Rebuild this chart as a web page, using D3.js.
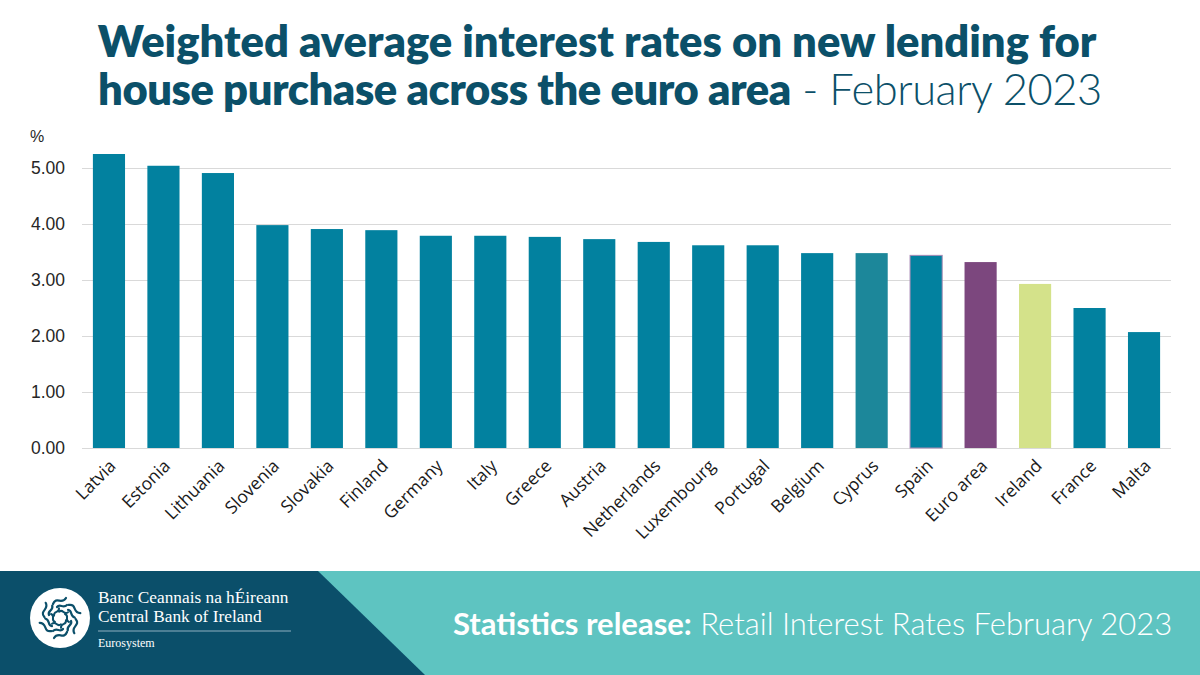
<!DOCTYPE html>
<html>
<head>
<meta charset="utf-8">
<script src="https://cdn.jsdelivr.net/npm/d3@7"></script>
<style>
  body { margin: 0; background: #fff; }
  svg { display: block; }
</style>
</head>
<body>
<svg id="chart" width="1200" height="675"></svg>
<script>
// values
const countries = ["Latvia", "Estonia", "Lithuania", "Slovenia", "Slovakia", "Finland", "Germany",
    "Italy", "Greece", "Austria", "Netherlands", "Luxembourg", "Portugal", "Belgium", "Cyprus",
    "Spain", "Euro area", "Ireland", "France", "Malta"];
const rates = [5.25, 5.04, 4.91, 3.98, 3.91, 3.89, 3.79, 3.79, 3.77, 3.73, 3.68, 3.62, 3.62,
    3.48, 3.48, 3.44, 3.32, 2.93, 2.50, 2.07];
const yTicks = [0, 1, 2, 3, 4, 5];

const titleBold1 = "Weighted average interest rates on new lending for";
const titleBold2 = "house purchase across the euro area";
const titleLight2 = " - February 2023";

const data = countries.map(function (c, i) { return { country: c, rate: rates[i] }; });

const svg = d3.select("#chart"),
    margin = { left: 82, right: 29, top: 168, bottom: 227 };

const x = d3.scaleBand()
    .domain(countries)
    .range([margin.left, 1200 - margin.right])
    .paddingInner(0.41)
    .paddingOuter(0.2);

const y = d3.scaleLinear()
    .domain([0, 5])
    .range([448, 168]);

function barColor(d) {
    if (d.country === "Euro area") return "#7C477E";
    if (d.country === "Ireland") return "#D4E28A";
    if (d.country === "Cyprus") return "#1C879A";
    return "#02819F";
}

// gridlines + y labels
const yAxis = svg.append("g")
    .attr("transform", "translate(" + margin.left + ",0)")
    .call(d3.axisLeft(y)
        .tickValues(yTicks)
        .tickFormat(d3.format(".2f"))
        .tickSize(-(1200 - margin.left - margin.right))
        .tickPadding(17));
yAxis.select(".domain").remove();
yAxis.selectAll(".tick line").attr("stroke", "#d9d9d9").attr("stroke-width", 1.2);
yAxis.selectAll(".tick text")
    .attr("fill", "#262626")
    .style("font-family", "'Liberation Sans', Arial, sans-serif")
    .style("font-size", "17.5px");

svg.append("text")
    .attr("x", 30).attr("y", 142)
    .attr("fill", "#262626")
    .style("font-family", "'Liberation Sans', Arial, sans-serif")
    .style("font-size", "16px")
    .text("%");

// bars
svg.append("g").selectAll("rect")
    .data(data)
    .enter().append("rect")
    .attr("x", function (d) { return x(d.country); })
    .attr("y", function (d) { return y(d.rate); })
    .attr("width", x.bandwidth())
    .attr("height", function (d) { return y(0) - y(d.rate); })
    .attr("fill", barColor)
    .attr("stroke", function (d) { return d.country === "Spain" ? "#A98BB5" : "none"; })
    .attr("stroke-width", 1);

// x labels, rotated
const xAxis = svg.append("g")
    .attr("transform", "translate(0,448)")
    .call(d3.axisBottom(x).tickSize(0).tickPadding(0));
xAxis.select(".domain").remove();
xAxis.selectAll(".tick text")
    .attr("text-anchor", "end")
    .attr("dy", null)
    .attr("transform", "translate(8,19) rotate(-45)")
    .attr("fill", "#1a1a1a")
    .style("font-family", "'Open Sans', 'Noto Sans', sans-serif")
    .style("font-size", "17.5px");

// title
const title = svg.append("text")
    .attr("fill", "#0B5069")
    .attr("text-anchor", "middle")
    .style("font-family", "Lato, sans-serif")
    .style("font-size", "43.5px");
title.append("tspan")
    .attr("x", 597).attr("y", 57)
    .style("font-weight", 800)
    .text(titleBold1);
const t2 = title.append("tspan")
    .attr("x", 600).attr("y", 105)
    .style("letter-spacing", "-0.45px");
t2.append("tspan").style("font-weight", 800).text(titleBold2);
t2.append("tspan").style("font-weight", 300).text(titleLight2);

// footer
svg.append("rect")
    .attr("x", 0).attr("y", 571)
    .attr("width", 1200).attr("height", 104)
    .attr("fill", "#5EC4C1");
svg.append("path")
    .attr("d", "M0,571 L318,571 L425,675 L0,675 Z")
    .attr("fill", "#0B4F6A");

// logo: white globe with swirl marks
const logo = svg.append("g").attr("transform", "translate(60,618)");
logo.append("circle").attr("r", 30).attr("fill", "#fff");
const swirlAngles = [0, 60, 120, 180, 240, 300];
swirlAngles.forEach(function (a) {
    logo.append("path")
        .attr("transform", "rotate(" + a + ") translate(0,-17)")
        .attr("d", "M-7,3 C-4,-5 2,4 6,-3 M-3,6 C0,2 3,8 7,4")
        .attr("fill", "none")
        .attr("stroke", "#0B4F6A")
        .attr("stroke-width", 2.2)
        .attr("stroke-linecap", "round");
});
[30, 90, 150, 210, 270, 330].forEach(function (a) {
    logo.append("path")
        .attr("transform", "rotate(" + a + ") translate(0,-7)")
        .attr("d", "M-4,2 C-2,-3 2,3 4,-2")
        .attr("fill", "none")
        .attr("stroke", "#0B4F6A")
        .attr("stroke-width", 2)
        .attr("stroke-linecap", "round");
});

const serif = "'Liberation Serif', 'DejaVu Serif', serif";
svg.append("text")
    .attr("x", 98).attr("y", 603)
    .attr("fill", "#fff")
    .style("font-family", serif).style("font-size", "17.3px")
    .text("Banc Ceannais na hÉireann");
svg.append("text")
    .attr("x", 98).attr("y", 622)
    .attr("fill", "#fff")
    .style("font-family", serif).style("font-size", "17.3px")
    .text("Central Bank of Ireland");
svg.append("line")
    .attr("x1", 98).attr("x2", 291)
    .attr("y1", 631).attr("y2", 631)
    .attr("stroke", "#8FB0C0").attr("stroke-width", 1);
svg.append("text")
    .attr("x", 98).attr("y", 647)
    .attr("fill", "#fff")
    .style("font-family", serif).style("font-size", "12px")
    .text("Eurosystem");

const release = svg.append("text")
    .attr("x", 453).attr("y", 635)
    .attr("fill", "#fff")
    .style("font-family", "Lato, sans-serif")
    .style("font-size", "31px");
release.append("tspan").style("font-weight", 700).text("Statistics release:");
release.append("tspan").style("font-weight", 300).text(" Retail Interest Rates February 2023");
</script>
</body>
</html>
